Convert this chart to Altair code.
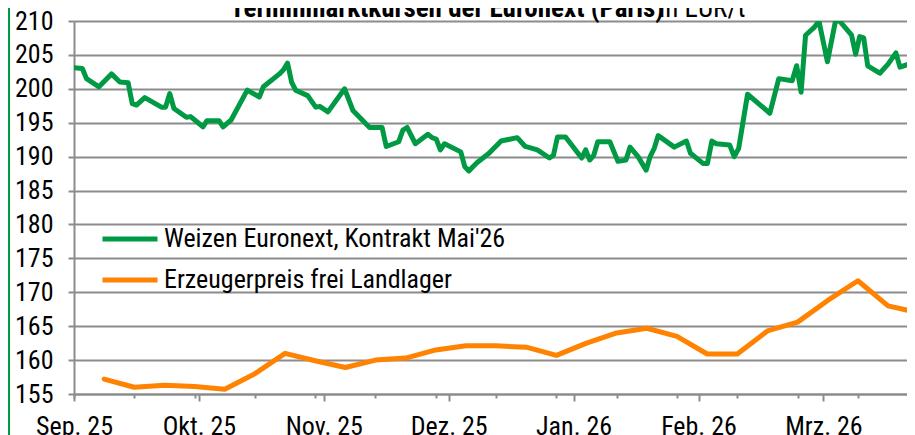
import json
import altair as alt
import pandas as pd

# ---------------- data ----------------
titel_fett = "Terminmarktkursen der Euronext (Paris)"
titel_normal = "in EUR/t"
reihe_weizen = "Weizen Euronext, Kontrakt Mai'26"
reihe_erzeuger = "Erzeugerpreis frei Landlager"
monate = ["Sep. 25", "Okt. 25", "Nov. 25", "Dez. 25", "Jan. 26", "Feb. 26", "Mrz. 26"]
y_ticks = [155, 160, 165, 170, 175, 180, 185, 190, 195, 200, 205, 210]

weizen_datum = [
    "2025-09-01", "2025-09-03", "2025-09-04", "2025-09-07", "2025-09-10", "2025-09-12",
    "2025-09-14", "2025-09-15", "2025-09-16", "2025-09-18", "2025-09-22", "2025-09-23",
    "2025-09-24", "2025-09-25", "2025-09-28", "2025-09-29", "2025-09-30",
    "2025-10-02", "2025-10-03", "2025-10-06", "2025-10-07", "2025-10-09", "2025-10-13",
    "2025-10-16", "2025-10-17", "2025-10-21", "2025-10-22", "2025-10-23", "2025-10-24",
    "2025-10-25", "2025-10-28", "2025-10-30", "2025-10-31",
    "2025-11-02", "2025-11-06", "2025-11-08", "2025-11-12", "2025-11-15", "2025-11-16",
    "2025-11-19", "2025-11-20", "2025-11-21", "2025-11-23", "2025-11-26", "2025-11-27",
    "2025-11-28", "2025-11-29", "2025-11-30",
    "2025-12-04", "2025-12-05", "2025-12-06", "2025-12-08", "2025-12-11", "2025-12-14",
    "2025-12-18", "2025-12-20", "2025-12-23", "2025-12-26", "2025-12-27", "2025-12-28",
    "2025-12-30",
    "2026-01-03", "2026-01-04", "2026-01-05", "2026-01-06", "2026-01-07", "2026-01-10",
    "2026-01-12", "2026-01-14", "2026-01-15", "2026-01-17", "2026-01-19", "2026-01-20",
    "2026-01-21", "2026-01-22", "2026-01-26", "2026-01-29", "2026-01-30",
    "2026-02-02", "2026-02-03", "2026-02-04", "2026-02-05", "2026-02-08", "2026-02-09",
    "2026-02-10", "2026-02-12", "2026-02-17", "2026-02-19", "2026-02-22", "2026-02-23",
    "2026-02-24", "2026-02-25", "2026-02-27", "2026-02-28",
    "2026-03-02", "2026-03-04", "2026-03-05", "2026-03-08", "2026-03-09", "2026-03-10",
    "2026-03-11", "2026-03-12", "2026-03-15", "2026-03-17", "2026-03-19", "2026-03-20",
    "2026-03-24",
]
weizen_preis = [
    203.1, 203.0, 201.5, 200.3, 202.2, 201.0,
    200.9, 197.8, 197.6, 198.7, 197.3, 197.3,
    199.3, 197.1, 195.8, 195.9, 195.4,
    194.4, 195.3, 195.3, 194.4, 195.4, 199.8,
    198.8, 200.3, 202.2, 202.8, 203.8, 201.0,
    199.8, 199.0, 197.3, 197.4,
    196.6, 200.0, 196.8, 194.3, 194.3, 191.5,
    192.2, 193.9, 194.3, 191.9, 193.3, 192.8,
    192.6, 191.0, 191.9,
    190.7, 188.5, 187.9, 189.1, 190.5, 192.3,
    192.8, 191.5, 191.0, 189.8, 190.2, 192.9,
    192.9,
    189.8, 191.0, 189.5, 190.2, 192.2, 192.2,
    189.3, 189.5, 191.4, 190.0, 188.0, 190.0,
    191.2, 193.1, 191.4, 192.3, 190.5,
    189.0, 189.0, 192.3, 191.9, 191.7, 190.0,
    191.2, 199.2, 196.4, 201.5, 201.2, 203.4,
    199.5, 207.9, 209.1, 210.0,
    204.0, 210.0, 210.0, 207.9, 205.1, 207.7,
    207.5, 203.4, 202.3, 203.6, 205.3, 203.2,
    204.0,
]

erzeuger_woche = [
    "KW 37", "KW 38", "KW 39", "KW 40", "KW 41", "KW 42", "KW 43", "KW 44",
    "KW 45", "KW 46", "KW 47", "KW 48", "KW 49", "KW 50", "KW 51", "KW 52",
    "KW 1", "KW 2", "KW 3", "KW 4", "KW 5", "KW 6", "KW 7", "KW 8",
    "KW 9", "KW 10", "KW 11", "KW 12",
]
erzeuger_preis = [
    157.2, 156.0, 156.3, 156.1, 155.7, 158.0, 161.0, 159.9,
    158.9, 160.0, 160.3, 161.5, 162.1, 162.1, 161.9, 160.7,
    162.5, 164.0, 164.7, 163.5, 160.9, 160.9, 164.3, 165.6,
    168.8, 171.7, 168.0, 167.0,
]

# ---------------- styling / layout ----------------
GREEN = "#009A44"
ORANGE = "#FF8200"
GRID = "#8C8C8C"
FONT = "Roboto Condensed, Liberation Sans, sans-serif"
W = 833          # plot width (px)
H = 373          # plot height (px)
PX_MONTH = 124.9  # pixel width of one month on the primary axis
PX_WEEK = 30.15   # pixel width of one category on the secondary axis

d = pd.to_datetime(pd.Series(weizen_datum))
monat_pos = (d.dt.year - 2025) * 12 + d.dt.month - 9 + (d.dt.day - 1) / d.dt.days_in_month
df_w = pd.DataFrame({"Monat": monat_pos, "Preis": weizen_preis, "Reihe": reihe_weizen})
df_e = pd.DataFrame({
    "Woche": list(range(1, len(erzeuger_preis) + 1)),
    "KW": erzeuger_woche,
    "Preis": erzeuger_preis,
    "Reihe": reihe_erzeuger,
})

color = alt.Color(
    "Reihe:N",
    scale=alt.Scale(domain=[reihe_weizen, reihe_erzeuger], range=[GREEN, ORANGE]),
    legend=alt.Legend(
        title=None, orient="none", legendX=26, legendY=203, direction="vertical",
        symbolType="stroke", symbolSize=3025, symbolStrokeWidth=5,
        labelFont=FONT, labelFontSize=26, labelColor="black", labelLimit=600,
        labelOffset=4, clipHeight=30, rowPadding=11, padding=0,
    ),
)

y_axis = alt.Axis(
    values=y_ticks, title=None, grid=True, gridColor=GRID, gridWidth=2,
    domainColor=GRID, domainWidth=2, tickColor=GRID, tickWidth=2, tickSize=6,
    labelPadding=15, labelFont=FONT, labelFontSize=26, labelColor="black",
    labelOverlap=False, labelFlush=False, tickCount=12,
)
y_scale = alt.Scale(domain=[155, 210], nice=False, zero=False)

green = alt.Chart(df_w).mark_line(
    strokeWidth=5, strokeJoin="round", strokeCap="round", clip=True
).encode(
    x=alt.X(
        "Monat:Q",
        scale=alt.Scale(domain=[0, W / PX_MONTH], nice=False, zero=False),
        axis=alt.Axis(
            orient="bottom", values=list(range(len(monate))),
            labelExpr=json.dumps(monate) + "[datum.value]",
            title=None, grid=False, domainColor=GRID, domainWidth=2,
            tickColor=GRID, tickWidth=2, tickSize=7, labelPadding=12,
            labelFont=FONT, labelFontSize=26, labelColor="black",
            labelFlush=False, labelOverlap=False,
        ),
    ),
    y=alt.Y("Preis:Q", scale=y_scale, axis=y_axis),
    color=color,
)

orange = alt.Chart(df_e).mark_line(
    strokeWidth=5, strokeJoin="round", strokeCap="round", clip=True
).encode(
    x=alt.X(
        "Woche:Q",
        scale=alt.Scale(domain=[0, W / PX_WEEK], nice=False, zero=False),
        axis=alt.Axis(
            orient="bottom", values=list(range(0, len(erzeuger_preis) + 1, 2)),
            labels=False, title=None, grid=False, domain=False,
            tickColor=GRID, tickWidth=2, tickSize=4,
        ),
    ),
    y=alt.Y("Preis:Q", scale=y_scale, axis=y_axis),
    color=color,
)

frame = alt.Chart(pd.DataFrame({"r": [0]})).mark_rule(color=GREEN, strokeWidth=2).encode(
    x=alt.value(-65), y=alt.value(-13), y2=alt.value(H + 60)
)

title_b = alt.Chart(pd.DataFrame({"t": [titel_fett]})).mark_text(
    font=FONT, fontSize=27, fontWeight="bold", align="left", baseline="alphabetic", color="black"
).encode(text="t:N", x=alt.value(156), y=alt.value(-4))

title_n = alt.Chart(pd.DataFrame({"t": [titel_normal]})).mark_text(
    font=FONT, fontSize=27, fontWeight="normal", align="left", baseline="alphabetic", color="black"
).encode(text="t:N", x=alt.value(585), y=alt.value(-4))

chart = (
    alt.layer(frame, orange, green, title_b, title_n)
    .resolve_scale(x="independent")
    .properties(
        width=W, height=H,
        autosize=alt.AutoSizeParams(type="none"),
        padding={"left": 66, "top": 13, "right": 0, "bottom": 50},
        background="white",
    )
    .configure_view(strokeWidth=0)
)

chart.save("out.html", embed_options={"renderer": "svg", "actions": False})
